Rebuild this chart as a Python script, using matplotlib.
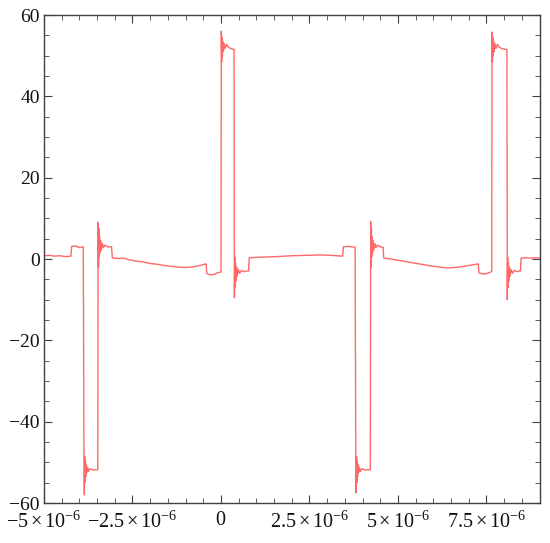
import matplotlib
matplotlib.use("Agg")
import matplotlib.pyplot as plt
from matplotlib.ticker import MultipleLocator

# ---- data (time in microseconds, value) ----
t_us = [
    -5.00, -4.85, -4.70, -4.55, -4.40, -4.24,
    -4.22, -4.10, -4.00, -3.89,
    -3.87, -3.86, -3.85, -3.84, -3.83, -3.82, -3.81, -3.79, -3.77, -3.74, -3.70, -3.60, -3.48,
    -3.47, -3.46, -3.45, -3.44, -3.43, -3.42, -3.40, -3.38, -3.35, -3.32, -3.28, -3.20, -3.09,
    -3.07, -2.90, -2.75, -2.60, -2.40, -2.20, -2.00, -1.80, -1.60, -1.40, -1.20, -1.00, -0.85, -0.70, -0.55, -0.42,
    -0.40, -0.30, -0.20, -0.10, 0.00,
    0.01, 0.02, 0.03, 0.04, 0.05, 0.07, 0.09, 0.12, 0.16, 0.22, 0.30, 0.37,
    0.38, 0.39, 0.40, 0.41, 0.42, 0.44, 0.46, 0.49, 0.53, 0.58, 0.65, 0.78,
    0.80, 1.00, 1.30, 1.60, 2.00, 2.40, 2.80, 3.10, 3.44,
    3.46, 3.60, 3.79,
    3.81, 3.82, 3.83, 3.84, 3.85, 3.86, 3.87, 3.89, 3.91, 3.94, 3.98, 4.08, 4.22,
    4.23, 4.24, 4.25, 4.26, 4.27, 4.28, 4.30, 4.32, 4.35, 4.38, 4.42, 4.50, 4.58,
    4.60, 4.80, 5.00, 5.20, 5.40, 5.60, 5.80, 6.00, 6.20, 6.38, 6.60, 6.80, 7.00, 7.15, 7.27,
    7.29, 7.40, 7.50, 7.60, 7.65,
    7.66, 7.67, 7.68, 7.69, 7.70, 7.72, 7.74, 7.77, 7.81, 7.87, 7.95, 8.08,
    8.09, 8.10, 8.11, 8.12, 8.13, 8.15, 8.17, 8.20, 8.24, 8.29, 8.36, 8.46,
    8.48, 8.60, 8.75, 8.90, 9.00,
]
volts = [
    0.8, 0.9, 0.7, 0.8, 0.6, 0.7,
    3.1, 3.2, 2.8, 3.0,
    -50.0, -58.0, -48.5, -55.0, -49.5, -53.5, -50.5, -52.5, -51.2, -52.2, -51.6, -51.9, -51.8,
    9.0, -2.0, 7.5, 0.5, 5.5, 1.5, 4.5, 2.2, 3.8, 2.8, 3.4, 3.0, 3.0,
    0.3, 0.1, 0.2, -0.2, -0.5, -0.7, -1.1, -1.3, -1.6, -1.8, -2.0, -2.1, -2.0, -1.8, -1.5, -1.2,
    -3.6, -3.9, -3.8, -3.4, -3.2,
    56.0, 48.5, 54.5, 50.0, 53.5, 51.0, 53.0, 51.8, 52.8, 52.0, 51.7, 51.5,
    -9.5, 0.5, -7.0, -1.0, -5.5, -2.0, -4.2, -2.6, -3.5, -2.8, -3.1, -2.9,
    0.3, 0.4, 0.5, 0.6, 0.8, 0.9, 1.0, 0.9, 0.7,
    3.0, 3.1, 2.9,
    -50.0, -57.5, -48.5, -55.0, -49.5, -53.5, -50.5, -52.5, -51.2, -52.2, -51.6, -51.9, -51.8,
    9.2, -2.0, 7.5, 0.5, 5.5, 1.5, 4.5, 2.2, 3.8, 2.8, 3.4, 3.0, 2.9,
    0.2, 0.0, -0.3, -0.6, -0.9, -1.2, -1.5, -1.8, -2.0, -2.2, -2.1, -1.9, -1.6, -1.4, -1.2,
    -3.4, -3.7, -3.6, -3.3, -3.1,
    55.8, 48.5, 54.5, 50.0, 53.5, 51.0, 53.0, 51.8, 52.8, 52.0, 51.7, 51.5,
    -10.0, 0.5, -7.0, -1.0, -5.5, -2.0, -4.2, -2.6, -3.5, -2.8, -3.1, -2.9,
    0.2, 0.3, 0.2, 0.3, 0.3,
]

x_ticks = [-5e-6, -2.5e-6, 0, 2.5e-6, 5e-6, 7.5e-6]
x_labels = [r'$-5\times10^{-6}$', r'$-2.5\times10^{-6}$', r'$0$',
            r'$2.5\times10^{-6}$', r'$5\times10^{-6}$', r'$7.5\times10^{-6}$']
y_ticks = [-60, -40, -20, 0, 20, 40, 60]
y_labels = ['\u221260', '\u221240', '\u221220', '0', '20', '40', '60']

plt.rcParams['font.family'] = ['Liberation Serif', 'DejaVu Serif']
plt.rcParams['mathtext.fontset'] = 'custom'
plt.rcParams['mathtext.rm'] = 'Liberation Serif'
plt.rcParams['mathtext.it'] = 'Liberation Serif:italic'

fig = plt.figure(figsize=(5.5, 5.43), dpi=100)
ax = fig.add_axes([44/550, 1 - 503/543, (539.5 - 44)/550, (503 - 15)/543])

t_sec = [t * 1e-6 for t in t_us]
ax.plot(t_sec, volts, color='#ff4d4d', lw=1.0, alpha=0.85)

ax.set_xlim(-5e-6, 9e-6)
ax.set_ylim(-60, 60)
ax.set_xticks(x_ticks)
ax.set_xticklabels(x_labels)
ax.set_yticks(y_ticks)
ax.set_yticklabels(y_labels)
ax.xaxis.set_minor_locator(MultipleLocator(0.5e-6))
ax.yaxis.set_minor_locator(MultipleLocator(5))

spine_col = '#404040'
for s in ax.spines.values():
    s.set_color(spine_col)
    s.set_linewidth(1.0)
ax.tick_params(which='both', direction='in', top=True, right=True,
               color=spine_col, labelcolor='#111111')
ax.tick_params(which='major', length=6, width=0.8)
ax.tick_params(which='minor', length=3.5, width=0.6)
ax.tick_params(axis='x', which='major', labelsize=14.5, pad=6)
ax.tick_params(axis='y', which='major', labelsize=14, pad=3)

fig.savefig('out.png', dpi=100)
